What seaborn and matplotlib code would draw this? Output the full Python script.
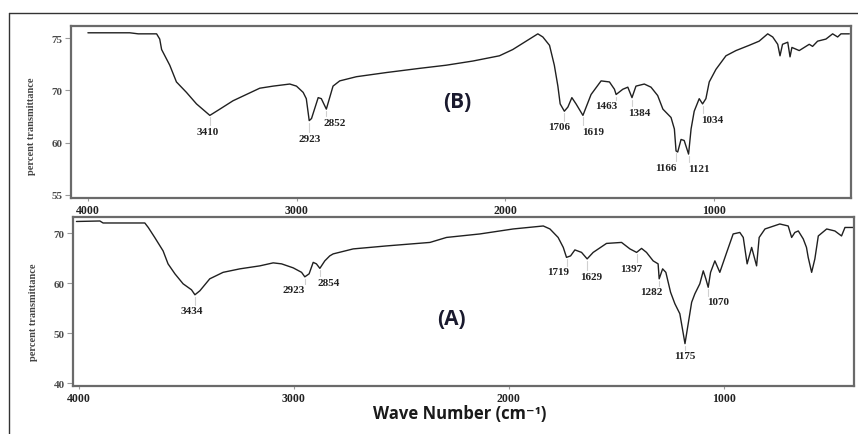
import numpy as np
import pandas as pd
import matplotlib
matplotlib.use("Agg")
import matplotlib.pyplot as plt
from matplotlib.lines import Line2D
import seaborn as sns

# ---------------- data ----------------
# Spectrum (B)
b_wavenumber = [4000, 3919, 3799, 3759, 3671, 3656, 3647, 3608, 3576, 3528, 3480, 3416,
                3368, 3305, 3241, 3177, 3113, 3033, 3001, 2969, 2954, 2940, 2929, 2897,
                2882, 2858, 2826, 2794, 2714, 2570, 2411, 2284, 2156, 2029, 1965, 1901,
                1845, 1821, 1789, 1766, 1749, 1738, 1718, 1701, 1682, 1662, 1629, 1590,
                1542, 1502, 1478, 1470, 1438, 1414, 1394, 1375, 1335, 1303, 1271, 1246,
                1207, 1191, 1183, 1175, 1159, 1144, 1123, 1111, 1096, 1072, 1056, 1040,
                1024, 992, 944, 896, 833, 785, 744, 720, 696, 685, 673, 648, 637, 628,
                593, 545, 529, 505, 465, 433, 409, 393, 353]
b_transmittance = [75.5, 75.5, 75.5, 75.4, 75.4, 74.9, 73.9, 72.4, 70.8, 69.8, 68.7, 67.6,
                   68.2, 69.0, 69.6, 70.2, 70.4, 70.6, 70.4, 69.8, 69.2, 67.1, 67.3, 69.3,
                   69.2, 68.2, 70.4, 70.9, 71.3, 71.7, 72.1, 72.4, 72.8, 73.3, 73.9, 74.7,
                   75.4, 75.1, 74.3, 72.4, 70.4, 68.7, 68.0, 68.4, 69.3, 68.7, 67.6, 69.6,
                   70.9, 70.8, 70.1, 69.6, 70.1, 70.3, 69.3, 70.4, 70.6, 70.3, 69.5, 68.2,
                   67.4, 66.3, 64.2, 64.1, 65.3, 65.2, 63.9, 66.3, 68.0, 69.2, 68.7, 69.2,
                   70.8, 72.0, 73.3, 73.8, 74.3, 74.7, 75.4, 75.1, 74.4, 73.3, 74.4, 74.6,
                   73.2, 74.1, 73.8, 74.4, 74.2, 74.7, 74.9, 75.4, 75.1, 75.4, 75.4]

# Spectrum (A)
a_wavenumber = [4011, 3902, 3887, 3693, 3677, 3647, 3608, 3585, 3553, 3515, 3476, 3460,
                3437, 3391, 3329, 3251, 3158, 3096, 3057, 3003, 2964, 2949, 2929, 2910,
                2895, 2879, 2856, 2833, 2817, 2724, 2569, 2367, 2290, 2135, 1980, 1840,
                1809, 1771, 1747, 1732, 1713, 1693, 1662, 1636, 1608, 1546, 1476, 1437,
                1406, 1383, 1360, 1329, 1306, 1301, 1285, 1270, 1248, 1228, 1205, 1181,
                1166, 1150, 1135, 1112, 1096, 1084, 1073, 1062, 1042, 1019, 987, 957,
                926, 910, 892, 871, 848, 836, 809, 740, 701, 685, 670, 654, 631, 616,
                608, 592, 577, 561, 522, 484, 453, 437, 398]
a_transmittance = [72.4, 72.5, 72.1, 72.1, 71.2, 69.2, 66.5, 63.9, 61.9, 59.9, 58.7, 57.7,
                   58.5, 60.9, 62.2, 62.9, 63.5, 64.1, 63.9, 63.1, 62.2, 61.3, 61.9, 64.2,
                   63.9, 63.0, 64.5, 65.5, 65.9, 66.9, 67.5, 68.2, 69.2, 69.9, 70.9, 71.5,
                   70.9, 69.2, 67.2, 65.2, 65.5, 66.7, 66.2, 64.9, 66.2, 68.0, 68.2, 66.9,
                   66.2, 67.0, 66.2, 64.5, 63.9, 60.9, 62.9, 62.2, 58.2, 55.9, 53.9, 47.9,
                   51.9, 56.2, 57.9, 59.9, 62.5, 60.9, 59.2, 62.2, 64.5, 62.2, 66.2, 69.9,
                   70.2, 69.2, 63.9, 67.2, 63.5, 69.2, 70.9, 71.9, 71.5, 69.2, 70.2, 70.5,
                   68.9, 67.2, 65.2, 62.2, 64.9, 69.5, 70.9, 70.5, 69.5, 71.2, 71.2]

# Peak labels: text, label x (cm-1), label y, peak x, peak y
b_peak_labels = ["3410", "2923", "2852", "1706", "1619", "1463", "1384", "1166", "1121", "1034"]
b_label_x = [3424, 2938, 2818, 1744, 1581, 1518, 1359, 1231, 1072, 1008]
b_label_y = [66.1, 65.4, 66.9, 66.5, 66.1, 68.5, 67.9, 62.6, 62.5, 67.2]
b_peak_x = [3416, 2940, 2858, 1718, 1629, 1470, 1394, 1183, 1123, 1056]
b_peak_y = [67.6, 67.1, 68.2, 68.0, 67.6, 69.6, 69.3, 64.2, 63.9, 68.7]

a_peak_labels = ["3434", "2923", "2854", "1719", "1629", "1397", "1282", "1070", "1175"]
a_label_x = [3476, 3003, 2840, 1771, 1615, 1429, 1336, 1026, 1181]
a_label_y = [54.5, 58.7, 60.2, 62.3, 61.4, 63.0, 58.3, 56.3, 45.5]
a_peak_x = [3460, 2949, 2879, 1732, 1636, 1406, 1301, 1073, 1181]
a_peak_y = [57.7, 61.3, 63.0, 65.2, 64.9, 66.2, 60.9, 59.2, 47.9]

b_yticks = [75, 70, 65, 60]
b_ytick_labels = ["75", "70", "60", "55"]
a_yticks = [70, 60, 50, 40]
a_ytick_labels = ["70", "60", "50", "40"]
x_ticks = [4000, 3000, 2000, 1000]
x_tick_labels = ["4000", "3000", "2000", "1000"]

panel_b = "(B)"
panel_a = "(A)"
y_label = "percent transmittance"
x_label = "Wave Number (cm\u207b\u00b9)"

# ---------------- drawing ----------------
sns.set_style("white")
plt.rcParams["font.family"] = ["Liberation Serif", "DejaVu Serif"]

fig = plt.figure(figsize=(8.58, 4.35), dpi=100)
W, H = 858, 435

def px_axes(l, t, r, b):
    return fig.add_axes([l / W, 1 - b / H, (r - l) / W, (b - t) / H])

ax_b = px_axes(71, 27, 851, 199)
ax_a = px_axes(73, 218, 854, 387)

df_b = pd.DataFrame({"w": b_wavenumber, "t": b_transmittance})
df_a = pd.DataFrame({"w": a_wavenumber, "t": a_transmittance})

line_color = "#202020"
sns.lineplot(data=df_b, x="w", y="t", ax=ax_b, color=line_color, lw=1.0, sort=False)
sns.lineplot(data=df_a, x="w", y="t", ax=ax_a, color=line_color, lw=1.0, sort=False)

ax_b.set_xlim(4081, 345)
ax_b.set_ylim(59.7, 76.15)
ax_a.set_xlim(4027, 395)
ax_a.set_ylim(39.4, 73.3)

for ax, yt, ytl, labs, lx, ly, px, py, lab_y in [
    (ax_b, b_yticks, b_ytick_labels, b_peak_labels, b_label_x, b_label_y, b_peak_x, b_peak_y, 0.424),
    (ax_a, a_yticks, a_ytick_labels, a_peak_labels, a_label_x, a_label_y, a_peak_x, a_peak_y, 0.444),
]:
    ax.set_yticks(yt)
    ax.set_yticklabels(ytl)
    ax.set_xticks(x_ticks)
    ax.set_xticklabels(x_tick_labels)
    ax.tick_params(axis="y", direction="out", length=4, width=0.8, color="#9a9a9a",
                   labelsize=8, labelcolor="#4a4a4a", pad=2, left=True)
    ax.tick_params(axis="x", direction="out", length=2, width=0.8, color="#9a9a9a",
                   labelsize=8.5, labelcolor="#222222", pad=2, bottom=True)
    for lbl in ax.get_xticklabels() + ax.get_yticklabels():
        lbl.set_fontweight("bold")
    for sp in ax.spines.values():
        sp.set_color("#6a6a6a")
        sp.set_linewidth(1.6)
    ax.set_xlabel("")
    ax.set_ylabel(y_label, fontsize=7.5, fontweight="bold", color="#444444")
    ax.yaxis.set_label_coords(-0.045, lab_y)
    for t, x0, y0, x1, y1 in zip(labs, lx, ly, px, py):
        ax.plot([x1, x1], [y1 - 0.2 if ax is ax_b else y1 - 0.4, y0 + (0.6 if ax is ax_b else 1.2)],
                color="#d0d0d0", lw=0.8)
        ax.text(x0, y0, t, ha="center", va="center", fontsize=8, color="#222222",
                fontweight="bold")

ax_b.text(0.495, 0.56, panel_b, transform=ax_b.transAxes, ha="center", va="center",
          fontsize=15, fontweight="bold", color="#1a1a2e", family=["Open Sans", "DejaVu Sans"])
ax_a.text(0.485, 0.40, panel_a, transform=ax_a.transAxes, ha="center", va="center",
          fontsize=15, fontweight="bold", color="#1a1a2e", family=["Open Sans", "DejaVu Sans"])

fig.text(460 / W, 1 - 414 / H, x_label, ha="center", va="center", fontsize=12,
         fontweight="bold", color="#1a1a1a", family=["Open Sans", "DejaVu Sans"])

# outer frame lines
fig.add_artist(Line2D([9 / W, 1.0], [1 - 14 / H, 1 - 14 / H], color="#333333", lw=1.0))
fig.add_artist(Line2D([9 / W, 9 / W], [1 - 14 / H, 0.0], color="#333333", lw=1.0))

fig.savefig("out.png", dpi=100)
